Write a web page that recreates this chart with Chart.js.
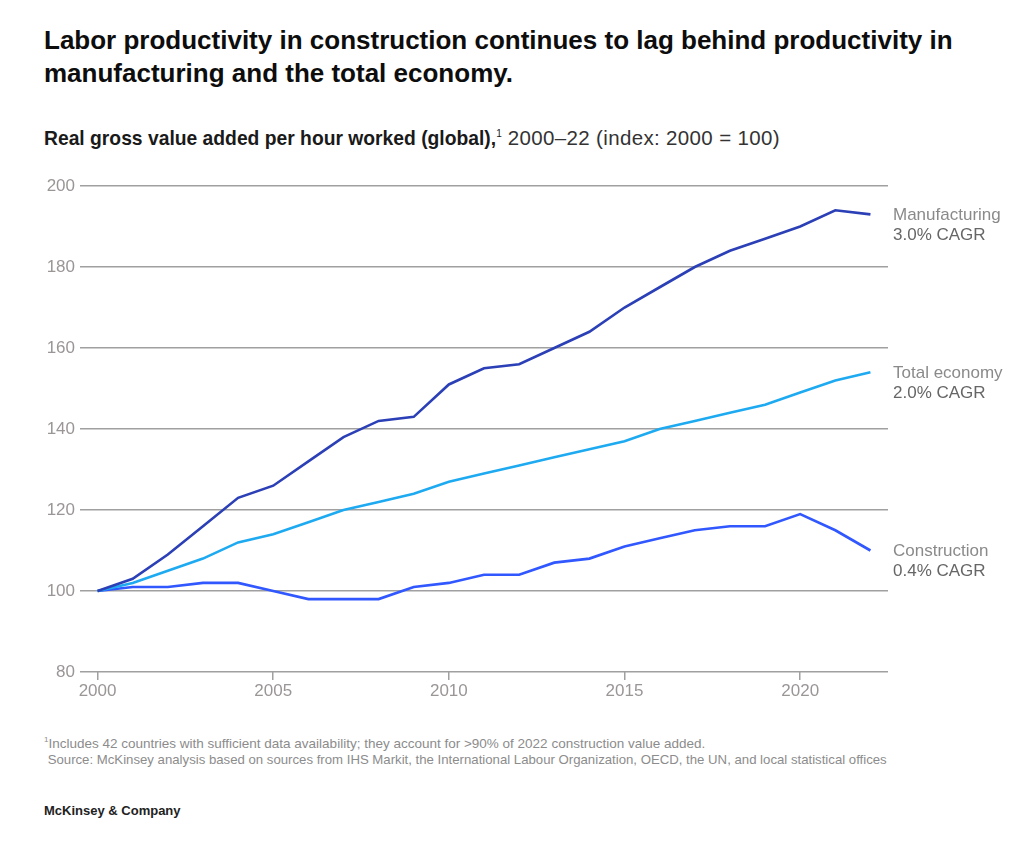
<!DOCTYPE html>
<html>
<head>
<meta charset="utf-8">
<script src="https://cdn.jsdelivr.net/npm/chart.js@4/dist/chart.umd.min.js"></script>
<style>
  html, body { margin: 0; padding: 0; background: #fff; }
  body { width: 1024px; height: 859px; position: relative; overflow: hidden; font-family: "Liberation Sans", Arial, sans-serif; color: #111; }
  #title { position: absolute; left: 44px; top: 24px; width: 975px; font-size: 26px; font-weight: bold; line-height: 33px; color: #0d0d0d; }
  #subtitle { position: absolute; left: 44px; top: 126px; font-size: 19.5px; color: #1a1a1a; white-space: nowrap; }
  #subtitle b { font-weight: bold; font-size: 19.3px; }
  #subtitle sup { font-size: 10px; vertical-align: 8px; }
  #subtitle span { color: #333; font-size: 20.5px; letter-spacing: 0.35px; }
  #wrap { position: absolute; left: 0; top: 170px; width: 1024px; height: 540px; }
  #foot { position: absolute; left: 44px; top: 732px; font-family: "Liberation Sans", Arial, sans-serif; font-size: 13.5px; line-height: 16px; color: #8c8c8c; white-space: nowrap; }
  #foot .l2 { font-size: 13.2px; }
  #brand { position: absolute; left: 44px; top: 803px; font-family: "Liberation Sans", Arial, sans-serif; font-size: 13px; font-weight: bold; color: #222; }
</style>
</head>
<body>
<div id="title">Labor productivity in construction continues to lag behind productivity in manufacturing and the total economy.</div>
<div id="subtitle"><b>Real gross value added per hour worked (global),</b><sup>1</sup><span> 2000–22 (index: 2000 = 100)</span></div>
<div id="wrap"><canvas id="c"></canvas></div>
<div id="foot"><sup style="font-size:8px">1</sup>Includes 42 countries with sufficient data availability; they account for &gt;90% of 2022 construction value added.<br><span class="l2">&nbsp;Source: McKinsey analysis based on sources from IHS Markit, the International Labour Organization, OECD, the UN, and local statistical offices</span></div>
<div id="brand">McKinsey &amp; Company</div>
<script>
const years = [2000,2001,2002,2003,2004,2005,2006,2007,2008,2009,2010,2011,2012,2013,2014,2015,2016,2017,2018,2019,2020,2021,2022];
const manufacturing = [100,103,109,116,123,126,132,138,142,143,151,155,156,160,164,170,175,180,184,187,190,194,193];
const totalEconomy = [100,102,105,108,112,114,117,120,122,124,127,129,131,133,135,137,140,142,144,146,149,152,154];
const construction = [100,101,101,102,102,100,98,98,98,101,102,104,104,107,108,111,113,115,116,116,119,115,110];
const seriesNames = ["Manufacturing", "Total economy", "Construction"];
const seriesCagr = ["3.0% CAGR", "2.0% CAGR", "0.4% CAGR"];
const xTicks = [2000, 2005, 2010, 2015, 2020];
const yTicks = [80, 100, 120, 140, 160, 180, 200];

const colors = ["#2b3fb6", "#1eaaf1", "#3157ff"];
const allSeries = [manufacturing, totalEconomy, construction];

const endLabels = {
  id: 'endLabels',
  afterDatasetsDraw(chart) {
    const ctx = chart.ctx;
    const ys = chart.scales.y;
    ctx.save();
    ctx.textBaseline = 'middle';
    ctx.textAlign = 'left';
    ctx.font = '17px "Liberation Sans", Arial, sans-serif';
    chart.data.datasets.forEach((ds, i) => {
      const last = ds.data[ds.data.length - 1];
      const y = ys.getPixelForValue(last.y);
      const x = chart.chartArea.right + 5;
      ctx.fillStyle = '#8a8a8a';
      ctx.fillText(seriesNames[i], x, y + 1);
      ctx.fillStyle = '#666';
      ctx.fillText(seriesCagr[i], x, y + 21);
    });
    ctx.restore();
  }
};

new Chart(document.getElementById('c'), {
  type: 'line',
  data: {
    datasets: allSeries.map((s, i) => ({
      label: seriesNames[i],
      data: years.map((yr, j) => ({ x: yr, y: s[j] })),
      borderColor: colors[i],
      borderWidth: 2.6,
      pointRadius: 0,
      tension: 0,
      fill: false
    }))
  },
  options: {
    responsive: true,
    maintainAspectRatio: false,
    animation: false,
    layout: { padding: { left: 30, right: 136, top: 16, bottom: 8 } },
    plugins: { legend: { display: false }, tooltip: { enabled: false } },
    scales: {
      x: {
        type: 'linear',
        min: 1999.5,
        max: 2022.5,
        afterBuildTicks: (axis) => { axis.ticks = xTicks.map(v => ({ value: v })); },
        afterFit: (axis) => { axis.height = 30; },
        border: { display: false },
        grid: { drawOnChartArea: false, drawTicks: true, tickLength: 8, color: '#a0a0a0', lineWidth: 1.5 },
        ticks: {
          color: '#9b9696',
          font: { family: '"Liberation Sans", Arial, sans-serif', size: 17 },
          padding: 1,
          callback: (v) => String(v)
        }
      },
      y: {
        min: 80,
        max: 200,
        afterBuildTicks: (axis) => { axis.ticks = yTicks.map(v => ({ value: v })); },
        afterFit: (axis) => { axis.width = 50; },
        border: { display: false },
        grid: { drawTicks: false, color: '#a0a0a0', lineWidth: 1.5 },
        ticks: {
          color: '#9b9696',
          font: { family: '"Liberation Sans", Arial, sans-serif', size: 17 },
          padding: 5
        }
      }
    }
  },
  plugins: [endLabels]
});
</script>
</body>
</html>
